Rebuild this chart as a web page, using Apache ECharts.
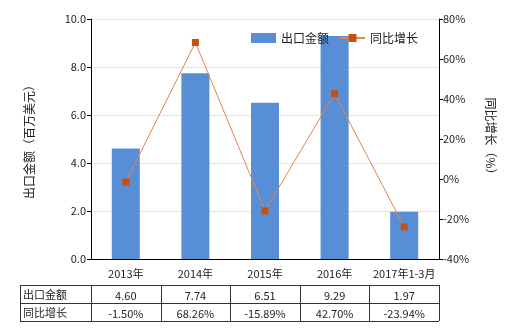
<!DOCTYPE html>
<html><head><meta charset="utf-8">
<script src="https://cdn.jsdelivr.net/npm/echarts@6/dist/echarts.min.js"></script>
<style>html,body{margin:0;padding:0;background:#fff}#c{width:520px;height:330px}</style>
</head><body><div id="c"></div>
<script>
var categories = ['2013年','2014年','2015年','2016年','2017年1-3月'];
var exportValues = [4.60, 7.74, 6.51, 9.29, 1.97];
var growthValues = [-1.50, 68.26, -15.89, 42.70, -23.94];
var exportLabels = ['4.60','7.74','6.51','9.29','1.97'];
var growthLabels = ['-1.50%','68.26%','-15.89%','42.70%','-23.94%'];
var seriesNames = ['出口金额','同比增长'];

var FONT = '"Noto Sans CJK SC", "Noto Sans", sans-serif';
var chart = echarts.init(document.getElementById('c'), null, {renderer:'canvas'});
var option = {
  animation:false,
  textStyle:{fontFamily:FONT},
  grid:{left:91,right:81,top:19,bottom:71,containLabel:false},
  legend:{
    top:27,left:246,itemGap:10,itemWidth:25,itemHeight:10,
    textStyle:{fontSize:12,color:'#222',fontFamily:FONT},
    data:[{name:seriesNames[0],icon:'rect'},{name:seriesNames[1]}]
  },
  xAxis:{
    type:'category',data:categories,
    axisLine:{lineStyle:{color:'#000',width:1}},
    axisTick:{alignWithLabel:true,length:5,lineStyle:{color:'#000'}},
    axisLabel:{interval:0,fontSize:11,color:'#222',margin:9,fontFamily:FONT}
  },
  yAxis:[{
    type:'value',min:0,max:10,interval:2,
    name:'出口金额（百万美元）',nameLocation:'middle',nameGap:56,nameRotate:90,
    nameTextStyle:{fontSize:12,color:'#222',fontFamily:FONT},
    axisLine:{show:true,lineStyle:{color:'#000'}},
    axisTick:{show:true,length:4,lineStyle:{color:'#000'}},
    axisLabel:{fontSize:11,color:'#222',margin:5,formatter:function(v){return v.toFixed(1);}},
    splitLine:{lineStyle:{color:'#e3e3e3'}}
  },{
    type:'value',min:-40,max:80,interval:20,position:'right',
    name:'同比增长（%）',nameLocation:'middle',nameGap:46,nameRotate:-90,
    nameTextStyle:{fontSize:12,color:'#222',fontFamily:FONT},
    axisLine:{show:true,lineStyle:{color:'#000'}},
    axisTick:{show:true,length:4,lineStyle:{color:'#000'}},
    axisLabel:{fontSize:11,color:'#222',margin:4,formatter:'{value}%'},
    splitLine:{show:false}
  }],
  series:[{
    name:seriesNames[0],type:'bar',data:exportValues,barWidth:28,
    itemStyle:{color:'#578ed6'}
  },{
    name:seriesNames[1],type:'line',yAxisIndex:1,data:growthValues,
    symbol:'rect',symbolSize:7,
    lineStyle:{color:'#e8834a',width:1},
    itemStyle:{color:'#c8500f'}
  }]
};
chart.setOption(option);

// table built from data arrays, aligned to the category axis
var centers = categories.map(function(c){return chart.convertToPixel({xAxisIndex:0},c);});
var band = centers.length>1 ? centers[1]-centers[0] : 70;
var x0 = 20, x1 = centers[0]-band/2, xEnd = centers[centers.length-1]+band/2;
var yTop = 285, yMid = 303, yBot = 321;
var els = [];
var ls = {stroke:'#333',lineWidth:1};
function line(a,b,c,d){els.push({type:'line',shape:{x1:a,y1:b,x2:c,y2:d},style:ls,silent:true});}
line(x0,yTop+0.5,xEnd,yTop+0.5);
line(x0,yMid+0.5,xEnd,yMid+0.5);
line(x0,yBot+0.5,xEnd,yBot+0.5);
line(x0+0.5,yTop,x0+0.5,yBot);
line(Math.round(x1)+0.5,yTop,Math.round(x1)+0.5,yBot);
centers.forEach(function(c){var xb=Math.round(c+band/2)+0.5; line(xb,yTop,xb,yBot);});
var tf = {fontSize:11,fill:'#222',fontFamily:FONT};
function txt(s,x,y,align){els.push({type:'text',x:x,y:y,silent:true,style:Object.assign({text:s,textAlign:align,textVerticalAlign:'middle'},tf)});}
txt(seriesNames[0],x0+3,(yTop+yMid)/2+0.5,'left');
txt(seriesNames[1],x0+3,(yMid+yBot)/2+0.5,'left');
centers.forEach(function(c,i){
  txt(exportLabels[i],c,(yTop+yMid)/2+1.5,'center');
  txt(growthLabels[i],c,(yMid+yBot)/2+1.5,'center');
});
chart.setOption({graphic:{elements:els}});
</script></body></html>
